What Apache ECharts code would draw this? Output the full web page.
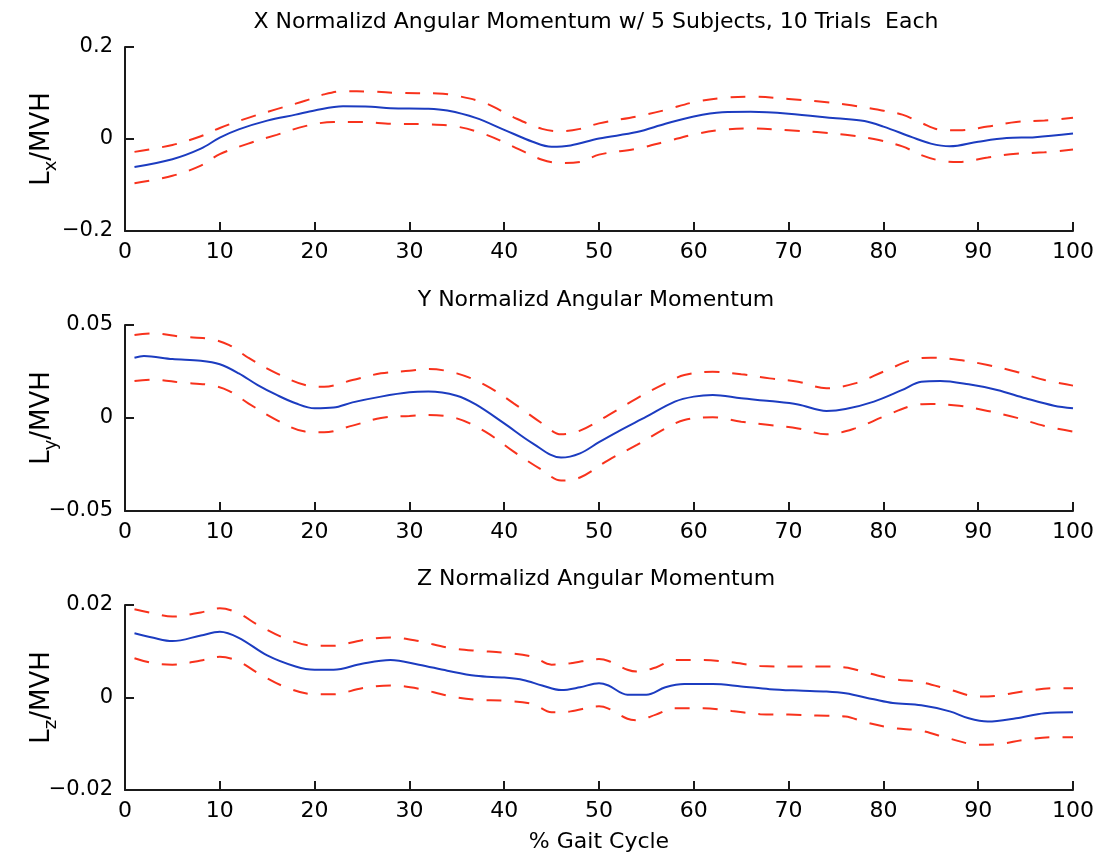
<!DOCTYPE html>
<html>
<head>
<meta charset="utf-8">
<script src="https://cdn.jsdelivr.net/npm/echarts@6/dist/echarts.min.js"></script>
<style>
html,body{margin:0;padding:0;background:#fff;}
#chart{width:1102px;height:859px;}
</style>
</head>
<body>
<div id="chart"></div>
<script>
// ---- Data ----
const titles = [
  'X Normalizd Angular Momentum w/ 5 Subjects, 10 Trials  Each',
  'Y Normalizd Angular Momentum',
  'Z Normalizd Angular Momentum'
];
const xAxisName = '% Gait Cycle';
const yNames = ['x', 'y', 'z'];
const xTicks = [0, 10, 20, 30, 40, 50, 60, 70, 80, 90, 100];
const yRangeX = [-0.2, 0.2];
const yRangeY = [-0.05, 0.05];
const yRangeZ = [-0.02, 0.02];

const xMean = [[1,-0.061],[5,-0.044],[8,-0.021],[10,0.003],[12,0.021],[15,0.040],[18,0.053],[20,0.062],[23,0.071],[26,0.070],[28,0.067],[32,0.066],[34,0.062],[37,0.046],[40,0.020],[43,-0.006],[45,-0.017],[47,-0.014],[50,0.001],[54,0.015],[57,0.033],[60,0.049],[63,0.058],[66,0.059],[70,0.055],[75,0.045],[78,0.039],[80,0.027],[83,0.004],[85,-0.010],[87,-0.016],[90,-0.006],[93,0.002],[96,0.004],[100,0.012]];
const xUpper = [[1,-0.028],[5,-0.013],[8,0.006],[10,0.024],[13,0.046],[16,0.065],[19,0.083],[21,0.097],[23,0.104],[26,0.103],[29,0.100],[33,0.099],[35,0.094],[38,0.078],[41,0.047],[44,0.022],[46,0.017],[48,0.022],[50,0.034],[54,0.049],[57,0.063],[60,0.080],[63,0.089],[66,0.092],[70,0.087],[73,0.082],[76,0.075],[79,0.065],[82,0.053],[84,0.035],[86,0.020],[88,0.019],[91,0.027],[94,0.037],[97,0.040],[100,0.046]];
const xLower = [[1,-0.096],[5,-0.080],[8,-0.058],[10,-0.033],[13,-0.010],[16,0.009],[19,0.028],[22,0.037],[25,0.037],[28,0.033],[32,0.032],[35,0.027],[38,0.010],[41,-0.017],[44,-0.045],[46,-0.052],[48,-0.050],[50,-0.034],[54,-0.021],[57,-0.006],[60,0.010],[63,0.020],[66,0.023],[70,0.019],[73,0.015],[76,0.009],[79,0.000],[82,-0.016],[84,-0.035],[86,-0.047],[88,-0.050],[91,-0.040],[94,-0.032],[97,-0.029],[100,-0.023]];

const yMean = [[1,0.0324],[2,0.0333],[5,0.0317],[8,0.0308],[10,0.0289],[12,0.024],[14,0.0177],[16,0.0124],[18,0.0079],[20,0.0052],[22,0.0056],[24,0.0084],[27,0.0115],[30,0.0138],[32,0.0142],[35,0.012],[37,0.0073],[40,-0.0029],[43,-0.0136],[46,-0.0213],[48,-0.019],[50,-0.013],[52,-0.0073],[55,0.0007],[58,0.0088],[60,0.0115],[62,0.0124],[65,0.0106],[68,0.0091],[71,0.0073],[74,0.0038],[76,0.0048],[79,0.0088],[82,0.0151],[84,0.0195],[86,0.0199],[89,0.0181],[92,0.0151],[95,0.0106],[98,0.0066],[100,0.0052]];
const yUpper = [[1,0.0446],[3,0.0455],[6,0.0437],[9,0.0425],[11,0.0392],[13,0.0324],[16,0.024],[19,0.0177],[21,0.0168],[24,0.0204],[27,0.024],[30,0.0254],[32,0.0263],[35,0.024],[38,0.0177],[41,0.0079],[44,-0.0029],[46,-0.0088],[48,-0.0068],[51,0.0016],[54,0.0106],[57,0.0186],[59,0.0231],[62,0.0249],[65,0.0235],[68,0.0213],[71,0.0195],[74,0.016],[77,0.0186],[80,0.0249],[83,0.0312],[85,0.0324],[88,0.0312],[91,0.0285],[94,0.0249],[97,0.0204],[100,0.0174]];
const yLower = [[1,0.0199],[3,0.0206],[6,0.019],[9,0.0177],[11,0.0145],[13,0.0079],[16,-0.0011],[19,-0.0073],[21,-0.0077],[24,-0.0041],[27,0.0],[30,0.0011],[32,0.0016],[35,-0.0002],[38,-0.0073],[41,-0.0181],[44,-0.028],[46,-0.0336],[48,-0.032],[51,-0.0226],[54,-0.0145],[57,-0.0056],[59,-0.0011],[62,0.0004],[65,-0.002],[68,-0.0038],[71,-0.0056],[74,-0.0088],[77,-0.0056],[80,0.0007],[83,0.0066],[85,0.0075],[88,0.0066],[91,0.0038],[94,0.0002],[97,-0.0043],[100,-0.0073]];

const zMean = [[1,0.0139],[3,0.0129],[5,0.0122],[8,0.0134],[10,0.0142],[12,0.0129],[15,0.0091],[18,0.0067],[20,0.006],[22,0.006],[25,0.0073],[28,0.0081],[31,0.0071],[34,0.0058],[37,0.0047],[40,0.0043],[42,0.0038],[44,0.0026],[46,0.0016],[48,0.0022],[50,0.0031],[51,0.0026],[53,0.0006],[55,0.0006],[57,0.0022],[59,0.0029],[62,0.0029],[65,0.0024],[68,0.0018],[71,0.0015],[74,0.0013],[76,0.0009],[79,-0.0004],[81,-0.0012],[84,-0.0017],[87,-0.003],[89,-0.0045],[91,-0.0052],[94,-0.0045],[97,-0.0034],[100,-0.0032]];
const zUpper = [[1,0.0191],[3,0.0182],[5,0.0175],[8,0.0184],[10,0.0193],[12,0.0182],[14,0.0157],[17,0.0127],[20,0.0112],[22,0.0112],[25,0.0124],[28,0.013],[31,0.0122],[34,0.0108],[37,0.0101],[40,0.0097],[43,0.0088],[45,0.0071],[47,0.0074],[50,0.0083],[51,0.0079],[53,0.006],[54,0.0056],[56,0.0065],[58,0.0081],[61,0.0081],[64,0.0076],[67,0.0068],[70,0.0067],[73,0.0067],[76,0.0065],[78,0.0055],[81,0.004],[84,0.0033],[87,0.0017],[90,0.0002],[92,0.0004],[95,0.0014],[98,0.002],[100,0.002]];
const zLower = [[1,0.0085],[3,0.0074],[5,0.0071],[8,0.008],[10,0.0088],[12,0.0078],[14,0.0053],[17,0.0022],[20,0.0007],[22,0.0007],[25,0.002],[28,0.0026],[31,0.0019],[34,0.0004],[37,-0.0005],[40,-0.0007],[43,-0.0014],[45,-0.0032],[47,-0.003],[50,-0.0019],[51,-0.0024],[53,-0.0046],[54,-0.0049],[56,-0.0037],[58,-0.0023],[61,-0.0023],[64,-0.0029],[67,-0.0036],[70,-0.0037],[73,-0.0039],[76,-0.0041],[78,-0.0053],[81,-0.0066],[84,-0.0072],[87,-0.0089],[90,-0.0102],[92,-0.0101],[95,-0.0091],[98,-0.0086],[100,-0.0086]];

// ---- Style / layout ----
const FONT = '"DejaVu Sans", "Liberation Sans", Arial, sans-serif';
const BLUE = '#1c3cc0';
const RED = '#f8321c';
const AX = '#1a1a1a';
const gridTops = [47, 325, 605];
const gridH = [184, 186, 185];
const titleTops = [6, 284, 563];
const ranges = [yRangeX, yRangeY, yRangeZ];
const seriesSets = [[xMean, xUpper, xLower], [yMean, yUpper, yLower], [zMean, zUpper, zLower]];

const chart = echarts.init(document.getElementById('chart'), null, {renderer: 'canvas'});

const grids = [], xAxes = [], yAxes = [], series = [], titleArr = [];
for (let i = 0; i < 3; i++) {
  grids.push({left: 125, width: 948, top: gridTops[i], height: gridH[i], containLabel: false, outerBoundsMode: 'none'});
  titleArr.push({
    text: titles[i], left: 591, top: titleTops[i], textAlign: 'center',
    textStyle: {fontFamily: FONT, fontSize: 22, fontWeight: 'normal', color: '#000'}
  });
  xAxes.push({
    type: 'value', gridIndex: i, min: xTicks[0], max: xTicks[xTicks.length - 1], interval: 10,
    axisLine: {show: true, onZero: false, lineStyle: {color: AX, width: 2}},
    axisTick: {show: true, inside: true, length: 9, lineStyle: {color: AX, width: 2}},
    splitLine: {show: false},
    axisLabel: {color: '#000', fontFamily: FONT, fontSize: 22, margin: 10, showMinLabel: true, showMaxLabel: true},
    name: i === 2 ? xAxisName : '', nameLocation: 'middle', nameGap: 41,
    nameTextStyle: {color: '#000', fontFamily: FONT, fontSize: 22}
  });
  const r = ranges[i];
  yAxes.push({
    type: 'value', gridIndex: i, min: r[0], max: r[1], interval: r[1],
    axisLine: {show: true, onZero: false, lineStyle: {color: AX, width: 2}},
    axisTick: {show: true, inside: true, length: 9, lineStyle: {color: AX, width: 2}},
    splitLine: {show: false},
    axisLabel: {
      color: '#000', fontFamily: FONT, fontSize: 21, margin: 12,
      formatter: v => String(v).replace('-', '\u2212')
    },
    name: '{m|L}{s|' + yNames[i] + '}{m|/MVH}', nameLocation: 'middle', nameGap: 65, nameRotate: 90,
    nameMoveOverlap: false,
    nameTextStyle: {
      color: '#000', fontFamily: FONT,
      rich: {
        m: {fontSize: 26, fontFamily: FONT, color: '#000', lineHeight: 36, verticalAlign: 'middle'},
        s: {fontSize: 18, fontFamily: FONT, color: '#000', lineHeight: 36, verticalAlign: 'bottom'}
      }
    }
  });
  const [m, u, l] = seriesSets[i];
  const common = {type: 'line', xAxisIndex: i, yAxisIndex: i, showSymbol: false, symbol: 'none', smooth: 0.35, animation: false, silent: true};
  series.push(Object.assign({}, common, {name: 'upper' + i, data: u, lineStyle: {color: RED, width: 2, type: [15, 13]}}));
  series.push(Object.assign({}, common, {name: 'lower' + i, data: l, lineStyle: {color: RED, width: 2, type: [15, 13]}}));
  series.push(Object.assign({}, common, {name: 'mean' + i, data: m, lineStyle: {color: BLUE, width: 2}}));
}

chart.setOption({
  backgroundColor: '#ffffff',
  animation: false,
  title: titleArr,
  grid: grids,
  xAxis: xAxes,
  yAxis: yAxes,
  series: series
});
</script>
</body>
</html>
